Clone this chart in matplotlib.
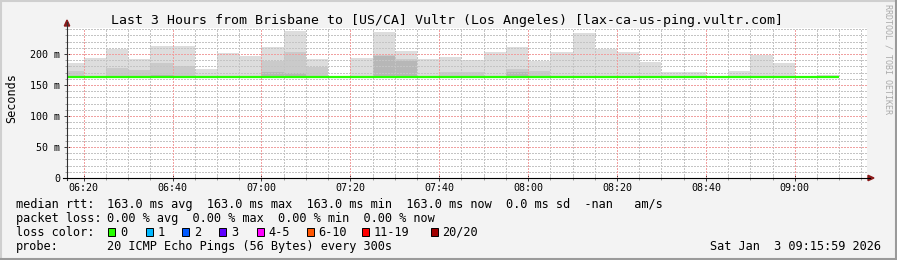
import matplotlib
matplotlib.use("Agg")
import matplotlib.pyplot as plt
from matplotlib.patches import Rectangle, Polygon
from matplotlib.lines import Line2D
import numpy as np

W, H = 897, 260

title = "Last 3 Hours from Brisbane to [US/CA] Vultr (Los Angeles) [lax-ca-us-ping.vultr.com]"

# 5-minute step start times
bar_starts = ["06:15", "06:20", "06:25", "06:30", "06:35", "06:40", "06:45", "06:50",
              "06:55", "07:00", "07:05", "07:10", "07:15", "07:20", "07:25", "07:30",
              "07:35", "07:40", "07:45", "07:50", "07:55", "08:00", "08:05", "08:10",
              "08:15", "08:20", "08:25", "08:30", "08:35", "08:40", "08:45", "08:50",
              "08:55", "09:00", "09:05"]
bar_end = "09:10"

# smoke (ms): outer layer top, 2nd layer top, 3rd layer top (None = no data)
smoke_max = [186, 193.5, 208.6, 191.4, 213, 213, 175.8, 201.6,
             197.3, 211.8, 237, 191.4, None, 194.1, 235.5, 204.8,
             191.4, 195.5, 190, 202.7, 211.3, 189.2, 202.7, 233.9,
             208.6, 202.7, 187.1, 171, 171, None, 172.6, 198.9,
             186, None, 166.6]
smoke_l2 = [172, 163, 178, 174, 186, 180.6, 163, 163,
            163, 189.2, 202.7, 179.6, None, 163, 198.5, 191.4,
            163, 170.4, 170.4, 163, 176, 172.6, 163, 163,
            163, 163, 163, 163, 163, None, 163, 163,
            163, None, 163]
smoke_l3 = [163, 163, 163, 163, 166, 163, 163, 163,
            163, 171.5, 169.9, 163, None, 163, 196, 189,
            163, 163, 163, 163, 171, 163, 163, 163,
            163, 163, 163, 163, 163, None, 163, 163,
            163, None, 163]
median_rtt = [163.0, 163.0, 163.0, 163.0, 163.0, 163.0, 163.0, 163.0,
              163.0, 163.0, 163.0, 163.0, 163.0, 163.0, 163.0, 163.0,
              163.0, 163.0, 163.0, 163.0, 163.0, 163.0, 163.0, 163.0,
              163.0, 163.0, 163.0, 163.0, 163.0, 163.0, 163.0, 163.0,
              163.0, 163.0, 163.0]

x_tick_labels = ["06:20", "06:40", "07:00", "07:20", "07:40", "08:00", "08:20", "08:40", "09:00"]
y_ticks = [0, 50, 100, 150, 200]
y_tick_labels = ["0", "50 m", "100 m", "150 m", "200 m"]

loss_labels = ["0", "1", "2", "3", "4-5", "6-10", "11-19", "20/20"]
loss_colors = ["#26ff00", "#00b8ff", "#0059ff", "#5e00ff", "#ff00ff", "#ff5500", "#ff0000", "#a00000"]

rtt_label = "median rtt:"
rtt_stats = "163.0 ms avg  163.0 ms max  163.0 ms min  163.0 ms now  0.0 ms sd  -nan   am/s"
loss_label = "packet loss:"
loss_stats = "0.00 % avg  0.00 % max  0.00 % min  0.00 % now"
color_label = "loss color:"
probe_label = "probe:"
probe_text = "20 ICMP Echo Pings (56 Bytes) every 300s"
timestamp = "Sat Jan  3 09:15:59 2026"
ylabel = "Seconds"
watermark = "RRDTOOL / TOBI OETIKER"


def tmin(s):
    h, m = s.split(":")
    return int(h) * 60 + int(m)


def fx(x):
    return x / W


def fy(y):
    return 1 - y / H


MONO = "DejaVu Sans Mono"
plt.rcParams["font.family"] = MONO

fig = plt.figure(figsize=(W / 100, H / 100), dpi=100)
fig.patch.set_facecolor("#f3f3f3")

ax_left, ax_right, ax_top, ax_bottom = 67, 867, 27.5, 178
ax = fig.add_axes([fx(ax_left), fy(ax_bottom), (ax_right - ax_left) / W, (ax_bottom - ax_top) / H])
ax.set_facecolor("white")
ax.set_xlim(376.25, 556.25)
ax.set_ylim(0, 242.7)

starts = np.array([tmin(s) for s in bar_starts], dtype=float)
edges = np.append(starts, tmin(bar_end))


def arr(v):
    return np.array([np.nan if a is None else a for a in v], dtype=float)


med = arr(median_rtt)
layers = [(arr(smoke_max), "#dddddd"), (arr(smoke_l2), "#cacaca"), (arr(smoke_l3), "#b7b7b7")]
for vals, col in layers:
    m = ~np.isnan(vals) & (vals > med)
    ax.bar(starts[m], vals[m] - med[m], bottom=med[m], width=5, align="edge",
           color=col, linewidth=0, zorder=1)

# grid (dotted, drawn over the smoke as rrdtool does)
dots = (0, (2, 2))
gkw = dict(lw=0.72, ls=dots, zorder=2, antialiased=False)
for v in range(10, 243, 10):
    if v % 50 == 0:
        continue
    ax.axhline(v, color="#c4c4c4", **gkw)
for t in range(380, 557, 5):
    if (t - 380) % 20 == 0:
        continue
    ax.axvline(t, color="#c4c4c4", **gkw)
for v in y_ticks[1:]:
    ax.axhline(v, color="#f0a0a0", **gkw)
for lab in x_tick_labels:
    ax.axvline(tmin(lab), color="#f0a0a0", **gkw)

# median line
ax.stairs(med, edges, baseline=None, color="#26ff00", lw=1.6, zorder=3)

# axes / ticks
for s in ["top", "right", "left", "bottom"]:
    ax.spines[s].set_visible(False)
ax.set_xticks([tmin(l) for l in x_tick_labels], x_tick_labels)
ax.set_xticks(list(range(380, 557, 5)), minor=True)
ax.set_yticks(y_ticks, y_tick_labels)
ax.set_yticks(list(range(0, 243, 10)), minor=True)
ax.tick_params(axis="both", which="major", direction="inout", length=4.3, width=0.72,
               color="#404040", labelsize=7.2)
ax.tick_params(axis="both", which="minor", direction="inout", length=2.2, width=0.6,
               color="#909090")
ax.tick_params(axis="x", which="major", pad=1.4)
ax.tick_params(axis="y", which="major", pad=2.9)

# axis lines with arrows
fig.add_artist(Line2D([fx(67), fx(67)], [fy(180), fy(22)], color="#303030", lw=0.8))
fig.add_artist(Line2D([fx(63), fx(870)], [fy(178), fy(178)], color="#000000", lw=0.8))
fig.add_artist(Polygon([[fx(64.3), fy(26)], [fx(69.7), fy(26)], [fx(67), fy(20)]],
                       closed=True, color="#8b1a1a", transform=fig.transFigure))
fig.add_artist(Polygon([[fx(868), fy(175.3)], [fx(868), fy(180.7)], [fx(874), fy(178)]],
                       closed=True, color="#8b1a1a", transform=fig.transFigure))

# texts
fig.text(fx(447), fy(24), title, ha="center", va="baseline", fontsize=9.55)
fig.text(fx(11.5), fy(98), ylabel, rotation=90, ha="center", va="center", fontsize=8.5)

leg_fs = 8.55
rows = [207.7, 221.7, 235.7, 249.7]
fig.text(fx(16), fy(rows[0]), rtt_label, va="baseline", fontsize=leg_fs)
fig.text(fx(106.5), fy(rows[0]), rtt_stats, va="baseline", fontsize=leg_fs)
fig.text(fx(16), fy(rows[1]), loss_label, va="baseline", fontsize=leg_fs)
fig.text(fx(106.5), fy(rows[1]), loss_stats, va="baseline", fontsize=leg_fs)
fig.text(fx(16), fy(rows[2]), color_label, va="baseline", fontsize=leg_fs)
fig.text(fx(16), fy(rows[3]), probe_label, va="baseline", fontsize=leg_fs)
fig.text(fx(106.5), fy(rows[3]), probe_text, va="baseline", fontsize=leg_fs)
fig.text(fx(881), fy(rows[3]), timestamp, ha="right", va="baseline", fontsize=leg_fs)

swatch_x = [108.3, 145.7, 182.3, 219.3, 256.7, 306.7, 361.7, 431.0]
for sx, lab, col in zip(swatch_x, loss_labels, loss_colors):
    fig.add_artist(Rectangle((fx(sx), fy(235.7)), 7 / W, 7.3 / H, facecolor=col,
                             edgecolor="black", lw=0.7, transform=fig.transFigure))
    fig.text(fx(sx + 11.5), fy(rows[2]), lab, va="baseline", fontsize=leg_fs)

fig.text(fx(888), fy(4), watermark, rotation=270, ha="center", va="top",
         fontsize=6, color="#aaaaaa")

# frame
fig.add_artist(Line2D([0, 1], [fy(0.8), fy(0.8)], color="#cfcfcf", lw=1.5))
fig.add_artist(Line2D([fx(0.8), fx(0.8)], [0, 1], color="#cfcfcf", lw=1.5))
fig.add_artist(Line2D([0, 1], [fy(259.0), fy(259.0)], color="#9a9a9a", lw=1.5))
fig.add_artist(Line2D([fx(896.0), fx(896.0)], [0, 1], color="#9a9a9a", lw=1.5))

fig.savefig("out.png", dpi=100, facecolor=fig.get_facecolor())
